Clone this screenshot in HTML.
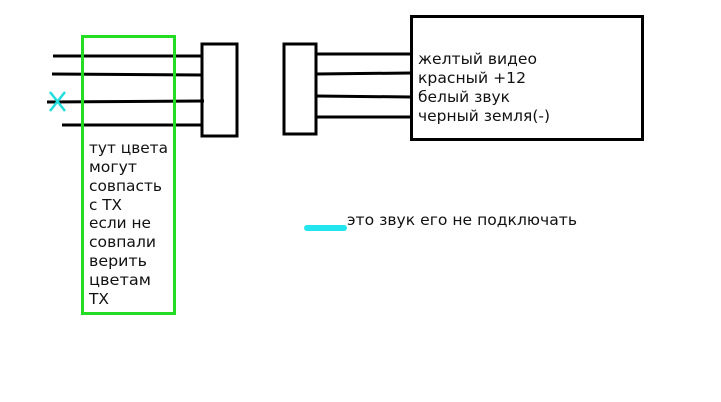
<!DOCTYPE html>
<html><head><meta charset="utf-8"><style>
html,body{margin:0;padding:0;background:#fff;width:721px;height:402px;overflow:hidden}
text{font-family:"DejaVu Sans","Liberation Sans",sans-serif;font-size:15px;fill:#111}
</style></head><body>
<svg width="721" height="402" xmlns="http://www.w3.org/2000/svg">
<g stroke="#000" stroke-width="3" fill="none">
<line x1="53" y1="56" x2="202" y2="56"/>
<line x1="52" y1="74" x2="202" y2="75"/>
<line x1="47" y1="102" x2="204" y2="101"/>
<line x1="62" y1="125" x2="203" y2="125"/>
<rect x="202" y="44" width="35" height="92"/>
<rect x="284" y="44" width="32" height="90"/>
<line x1="316" y1="54" x2="411" y2="54"/>
<line x1="316" y1="74" x2="411" y2="73"/>
<line x1="316" y1="96" x2="411" y2="97"/>
<line x1="316" y1="117" x2="411" y2="117"/>
<rect x="411.5" y="16.5" width="231" height="123"/>
</g>
<rect x="82.5" y="36.5" width="92" height="277" stroke="#22dd22" stroke-width="3" fill="none"/>
<g stroke="#22dddd" stroke-width="2.5">
<line x1="50" y1="92" x2="65" y2="111"/>
<line x1="65" y1="92" x2="50" y2="111"/>
</g>
<line x1="307" y1="228" x2="344" y2="228" stroke="#22e5ee" stroke-width="6" stroke-linecap="round"/>
<text x="418" y="64" textLength="119" lengthAdjust="spacingAndGlyphs">желтый видео</text>
<text x="418" y="83" textLength="108" lengthAdjust="spacingAndGlyphs">красный +12</text>
<text x="418" y="102" textLength="92" lengthAdjust="spacingAndGlyphs">белый звук</text>
<text x="418" y="121" textLength="132" lengthAdjust="spacingAndGlyphs">черный земля(-)</text>
<text x="89" y="153" textLength="79" lengthAdjust="spacingAndGlyphs">тут цвета</text>
<text x="89" y="172" textLength="48" lengthAdjust="spacingAndGlyphs">могут</text>
<text x="89" y="191" textLength="73" lengthAdjust="spacingAndGlyphs">совпасть</text>
<text x="89" y="210" textLength="33" lengthAdjust="spacingAndGlyphs">с ТХ</text>
<text x="89" y="228" textLength="62" lengthAdjust="spacingAndGlyphs">если не</text>
<text x="89" y="247" textLength="67" lengthAdjust="spacingAndGlyphs">совпали</text>
<text x="89" y="266" textLength="58" lengthAdjust="spacingAndGlyphs">верить</text>
<text x="89" y="285" textLength="62" lengthAdjust="spacingAndGlyphs">цветам</text>
<text x="89" y="304" textLength="20" lengthAdjust="spacingAndGlyphs">ТХ</text>
<text x="347" y="225" textLength="230" lengthAdjust="spacingAndGlyphs">это звук его не подключать</text>
</svg>
</body></html>
